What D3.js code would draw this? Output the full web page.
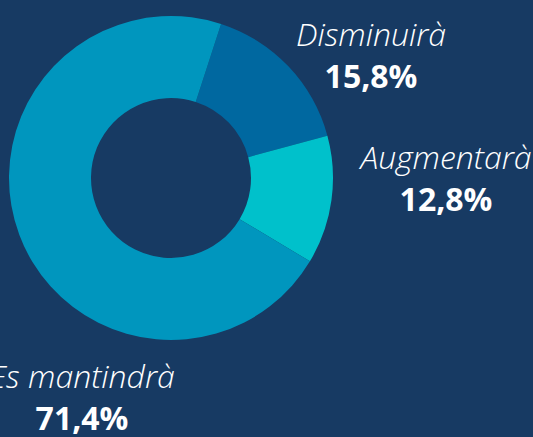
<!DOCTYPE html>
<html>
<head>
<meta charset="utf-8">
<script src="https://cdn.jsdelivr.net/npm/d3@7"></script>
<style>
  body { margin:0; background:#173a63; }
  svg { display:block; }
</style>
</head>
<body>
<div id="chart"></div>
<script>
// data
var categories = ["Disminuirà", "Augmentarà", "Es mantindrà"];
var values = [15.8, 12.8, 71.4];
var valueLabels = ["15,8%", "12,8%", "71,4%"];

var colors = ["#0068a0", "#00c1cb", "#0096be"];

var width = 533,
    height = 437,
    cx = 171, cy = 178,
    outerR = 162,
    innerR = 80;

// label anchor points (centre x, baseline of the name)
var labelPos = [[371, 46], [446, 169], [82, 388]];

var svg = d3.select("#chart").append("svg")
    .attr("width", width)
    .attr("height", height);

svg.append("rect")
    .attr("width", width)
    .attr("height", height)
    .attr("fill", "#173a63");

var pie = d3.pie()
    .sort(null)
    .startAngle(18 * Math.PI / 180)
    .endAngle(18 * Math.PI / 180 + 2 * Math.PI);

var arc = d3.arc()
    .innerRadius(innerR)
    .outerRadius(outerR);

var g = svg.append("g")
    .attr("transform", "translate(" + cx + "," + cy + ")");

g.selectAll("path")
    .data(pie(values))
  .enter()
    .append("path")
    .attr("d", arc)
    .attr("fill", function(d, i){ return colors[i]; });

// labels
var labels = svg.selectAll(".lbl")
    .data(categories)
  .enter()
    .append("g")
    .attr("class", "lbl")
    .attr("transform", function(d, i){
        return "translate(" + labelPos[i][0] + "," + labelPos[i][1] + ")";
    });

labels.append("text")
    .attr("text-anchor", "middle")
    .attr("fill", "#ffffff")
    .style("font-family", "'Open Sans'")
    .style("font-style", "italic")
    .style("font-weight", 300)
    .style("font-size", "32px")
    .text(function(d){ return d; });

labels.append("text")
    .attr("text-anchor", "middle")
    .attr("y", 42)
    .attr("fill", "#ffffff")
    .style("font-family", "'Open Sans'")
    .style("font-weight", 700)
    .style("font-size", "32px")
    .text(function(d, i){ return valueLabels[i]; });
</script>
</body>
</html>
